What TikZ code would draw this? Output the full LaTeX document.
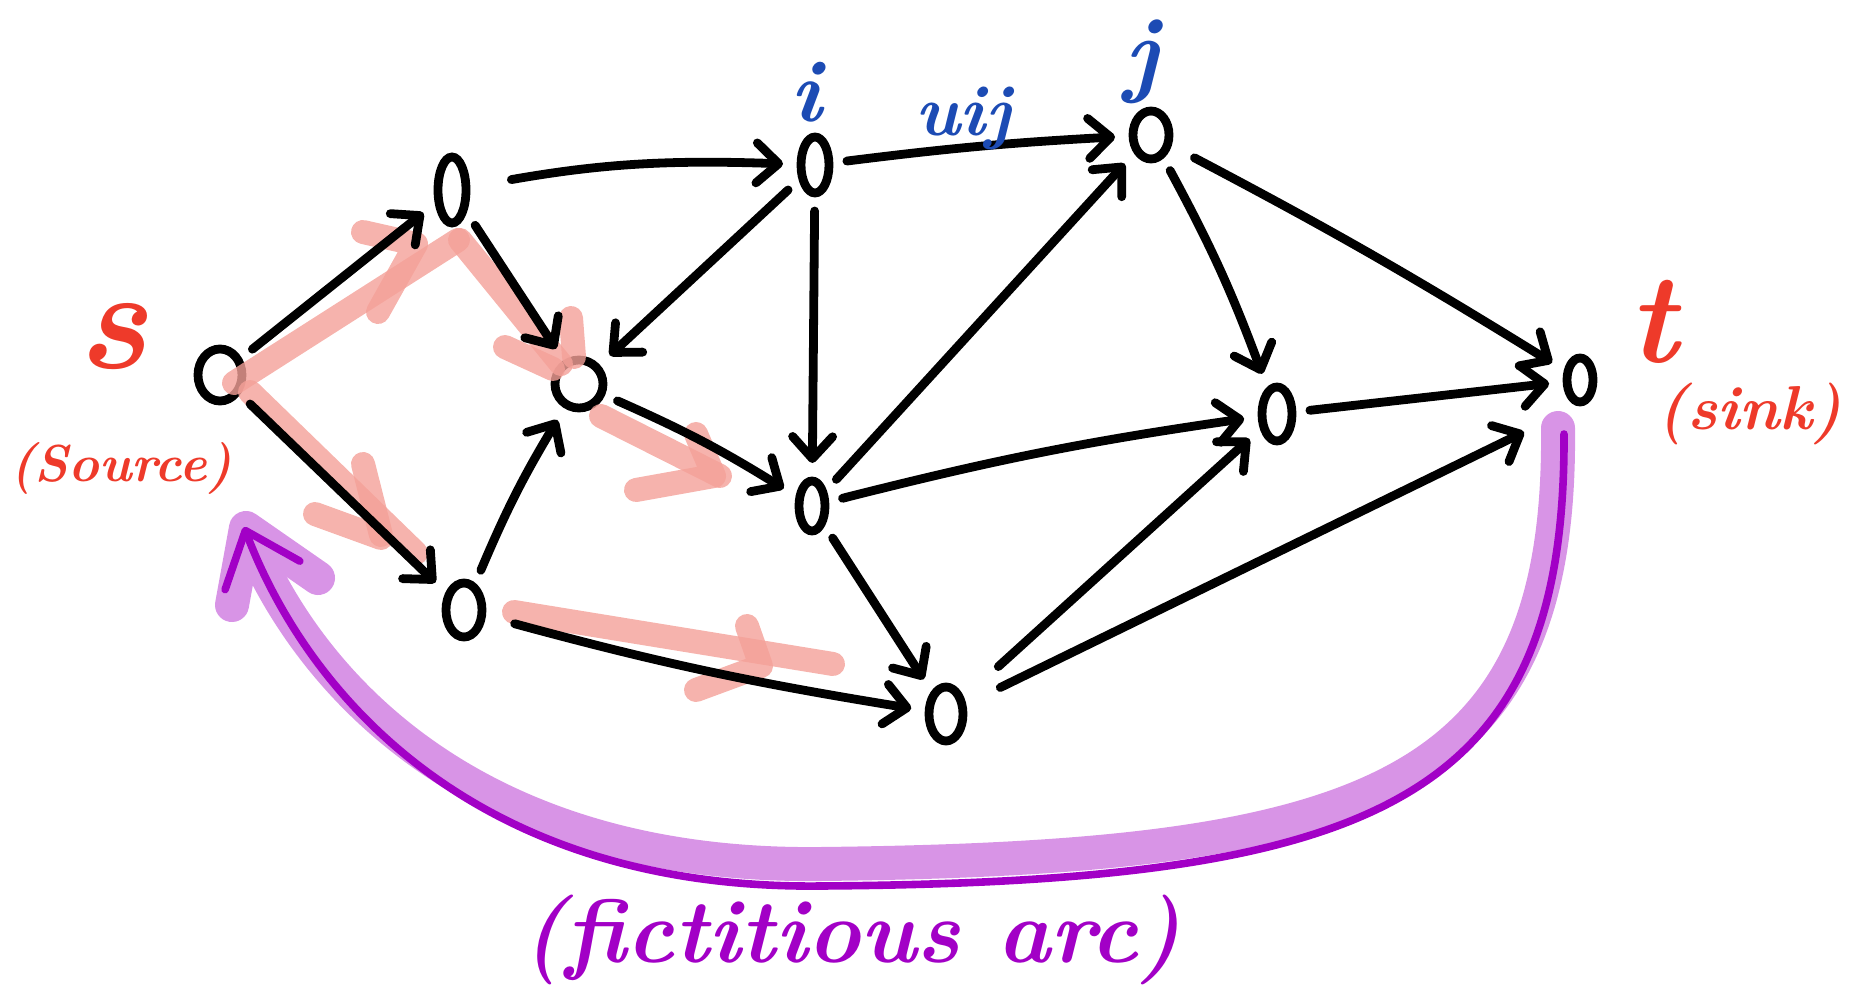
\documentclass[tikz,border=0pt]{standalone}
\usetikzlibrary{arrows.meta,shapes.geometric}
\definecolor{redink}{HTML}{EE3A2A}
\definecolor{hlred}{HTML}{F4A098}
\definecolor{blueink}{HTML}{1C4BB4}
\definecolor{purpink}{HTML}{A200C6}
\definecolor{hlpurp}{HTML}{D894E6}
\begin{document}
\begin{tikzpicture}[x=0.5pt,y=-0.5pt,
  vert/.style={ellipse, draw, line width=4.4pt, inner sep=0pt, outer sep=9pt},
  edge/.style={line width=4.4pt, line cap=round, -{Straight Barb[length=11pt,width=20pt,round]}},
  hlline/.style={line width=12pt, draw=hlred, opacity=0.8, line cap=round, line join=round},
  hand/.style={font=\itshape},
  purpline/.style={line width=3.8pt, draw=purpink, line cap=round, -{Straight Barb[length=24pt,width=40pt,round]}},
  purphl/.style={line width=17pt, draw=hlpurp, line cap=round, line join=round}
]
\useasboundingbox (0,0) rectangle (1865,990);

% nodes
\node[vert, minimum width=22pt, minimum height=26pt] (s) at (220,375) {};
\node[vert, minimum width=14pt, minimum height=33pt] (a) at (452,190) {};
\node[vert, minimum width=24pt, minimum height=24pt] (b) at (579,384) {};
\node[vert, minimum width=18pt, minimum height=27pt] (c) at (464,610) {};
\node[vert, minimum width=14pt, minimum height=28pt] (i) at (815,165) {};
\node[vert, minimum width=13pt, minimum height=25pt] (d) at (812,506) {};
\node[vert, minimum width=17pt, minimum height=27pt] (e) at (946,714) {};
\node[vert, minimum width=18pt, minimum height=24pt] (j) at (1151,135) {};
\node[vert, minimum width=15pt, minimum height=27pt] (f) at (1277,414) {};
\node[vert, minimum width=13pt, minimum height=22pt] (t) at (1580,380) {};

% red highlights (path s-a-b-d and s-c-e)
\draw[hlline] ([shift={(14,8)}]s.center) -- ([shift={(6,50)}]a.center);
\draw[hlline] (363,232) -- (416,244) -- (378,312);
\draw[hlline] ([shift={(8,50)}]a.center) -- ([shift={(-18,-20)}]b.center);
\draw[hlline] (505,347) -- (553,369);
\draw[hlline] (571,318) -- (574,357);
\draw[hlline] ([shift={(22,32)}]b.center) -- ([shift={(-92,-30)}]d.center);
\draw[hlline] (696,434) -- (714,476) -- (636,490);
\draw[hlline] ([shift={(30,17)}]s.center) -- ([shift={(-48,-57)}]c.center);
\draw[hlline] (363,464) -- (381,535);
\draw[hlline] (315,514) -- (381,538);
\draw[hlline] ([shift={(50,2)}]c.center) -- ([shift={(-113,-50)}]e.center);
\draw[hlline] (747,626) -- (761,666) -- (696,690);

% fictitious arc
\draw[purphl] ([shift={(-22,8)}]t.south) .. controls (1562,790) and (1370,858) .. (821,864)
   .. controls (490,868) and (318,700) .. (250,540);
\draw[purphl] (232,605) -- (246,528) -- (318,578);
\draw[purpline] ([shift={(-16,14)}]t.south) .. controls (1566,800) and (1380,882) .. (821,886)
   .. controls (480,890) and (310,700) .. ([shift={(24,108)}]s.south);

% edges
\draw[edge] (s) -- (a);
\draw[edge] (s) -- (c);
\draw[edge] (a) -- (b);
\draw[edge, shorten <=14pt] (a) to[bend left=6] (i);
\draw[edge] (i) -- (b);
\draw[edge] (c) to[bend left=4] (b);
\draw[edge] (b) to[bend left=4] (d);
\draw[edge, shorten <=8pt] (c) to[bend right=3] (e);
\draw[edge] (i) to[bend left=2] (j);
\draw[edge] (i) -- (d);
\draw[edge] (d) -- (j);
\draw[edge] (d) to[bend left=3] (f);
\draw[edge] (d) -- (e);
\draw[edge] (j) to[bend left=4] (f);
\draw[edge, shorten <=6pt] (j) to[bend left=2] (t);
\draw[edge] (f) -- (t);
\draw[edge, shorten <=16pt] (e) -- (f);
\draw[edge, shorten <=12pt] (e) -- ([shift={(-56,52)}]t.center);

% labels
\node[hand, text=redink, font=\fontsize{72}{72}\selectfont\bfseries\itshape] (ls) at (113,337) {s};
\node[hand, text=redink, font=\fontsize{26}{26}\selectfont\bfseries\itshape] (lsrc) at (121,468) {(Source)};
\node[hand, text=blueink, font=\fontsize{44}{44}\selectfont\bfseries\itshape] (li) at (806,92) {i};
\node[hand, text=blueink, font=\fontsize{36}{36}\selectfont\bfseries\itshape] (luij) at (963,119) {uij};
\node[hand, text=blueink, font=\fontsize{48}{48}\selectfont\bfseries\itshape] (lj) at (1142,62) {j};
\node[hand, text=redink, font=\fontsize{64}{64}\selectfont\bfseries\itshape] (lt) at (1653,322) {t};
\node[hand, text=redink, font=\fontsize{31}{31}\selectfont\bfseries\itshape] (lsink) at (1750,414) {(sink)};
\node[hand, text=purpink, font=\fontsize{45}{45}\selectfont\bfseries\itshape] (lfa) at (852,940) {(fictitious arc)};
\end{tikzpicture}
\end{document}
